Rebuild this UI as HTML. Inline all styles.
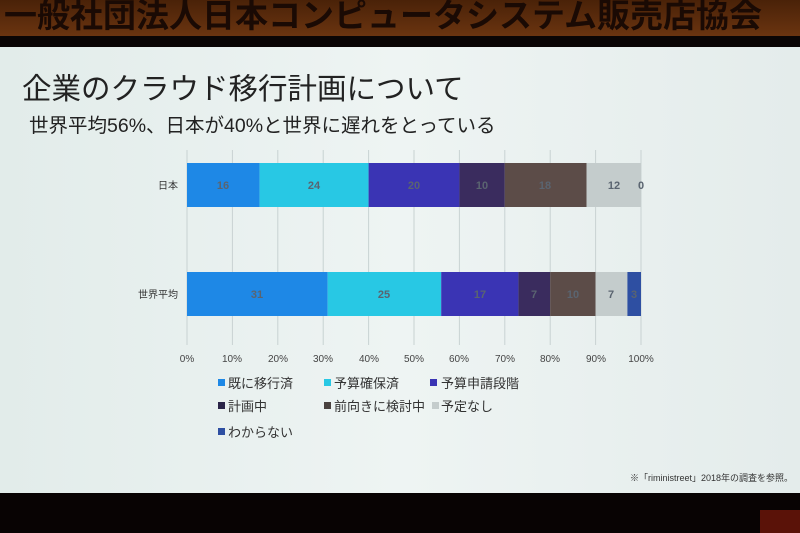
<!DOCTYPE html>
<html><head><meta charset="utf-8"><style>
body{margin:0;width:800px;height:533px;overflow:hidden;background:#0a0505;font-family:"Liberation Sans","Noto Sans CJK JP",sans-serif;position:relative}
.ban{position:absolute;left:0;top:0;width:800px;height:36px;background:linear-gradient(#4a2208,#6a3410);overflow:hidden}
.ban span{position:absolute;left:4px;top:-11px;font-size:33px;font-weight:bold;color:#1a0a04;white-space:nowrap}
.slide{position:absolute;left:0;top:47px;width:800px;height:446px;background:linear-gradient(90deg,#e2ecea,#eef4f3 50%,#e4eceb)}
.t{position:absolute;white-space:nowrap;color:#222}
.bot{position:absolute;left:0;top:493px;width:800px;height:40px;background:#080303}
</style></head><body>
<div class="ban"><span>一般社団法人日本コンピュータシステム販売店協会</span></div>
<div class="slide"></div>
<div class="t" style="left:22px;top:66px;font-size:29.5px">企業のクラウド移行計画について</div>
<div class="t" style="left:29px;top:109px;font-size:19.5px">世界平均56%、日本が40%と世界に遅れをとっている</div>
<svg style="position:absolute;left:0;top:0" width="800" height="533" font-family="Liberation Sans, Noto Sans CJK JP, sans-serif">
<g stroke="#c8d2d2" stroke-width="1">
<line x1="187" y1="150" x2="187" y2="345"/><line x1="232.4" y1="150" x2="232.4" y2="345"/><line x1="277.8" y1="150" x2="277.8" y2="345"/><line x1="323.2" y1="150" x2="323.2" y2="345"/><line x1="368.6" y1="150" x2="368.6" y2="345"/><line x1="414" y1="150" x2="414" y2="345"/><line x1="459.4" y1="150" x2="459.4" y2="345"/><line x1="504.8" y1="150" x2="504.8" y2="345"/><line x1="550.2" y1="150" x2="550.2" y2="345"/><line x1="595.6" y1="150" x2="595.6" y2="345"/><line x1="641" y1="150" x2="641" y2="345"/>
</g>
<g>
<rect x="187" y="163" width="72.6" height="44" fill="#1e88e6"/>
<rect x="259.6" y="163" width="109" height="44" fill="#28c8e4"/>
<rect x="368.6" y="163" width="90.8" height="44" fill="#3a34b4"/>
<rect x="459.4" y="163" width="45.4" height="44" fill="#3a2c5e"/>
<rect x="504.8" y="163" width="81.7" height="44" fill="#5c4c48"/>
<rect x="586.5" y="163" width="54.5" height="44" fill="#c4cccc"/>
<rect x="187" y="272" width="140.7" height="44" fill="#1e88e6"/>
<rect x="327.7" y="272" width="113.5" height="44" fill="#28c8e4"/>
<rect x="441.2" y="272" width="77.2" height="44" fill="#3a34b4"/>
<rect x="518.4" y="272" width="31.8" height="44" fill="#3a2c5e"/>
<rect x="550.2" y="272" width="45.4" height="44" fill="#5c4c48"/>
<rect x="595.6" y="272" width="31.8" height="44" fill="#c4cccc"/>
<rect x="627.4" y="272" width="13.6" height="44" fill="#2e4fa2"/>
</g>
<g font-size="11" fill="#5a6470" text-anchor="middle" font-weight="bold">
<text x="223" y="189">16</text><text x="314" y="189">24</text><text x="414" y="189">20</text><text x="482" y="189">10</text><text x="545" y="189">18</text><text x="614" y="189">12</text><text x="641" y="189">0</text>
<text x="257" y="298">31</text><text x="384" y="298">25</text><text x="480" y="298">17</text><text x="534" y="298">7</text><text x="573" y="298">10</text><text x="611" y="298">7</text><text x="634" y="298">3</text>
</g>
<g font-size="10" fill="#333" text-anchor="end"><text x="178" y="189">日本</text><text x="178" y="298">世界平均</text></g>
<g font-size="10" fill="#444" text-anchor="middle">
<text x="187" y="362">0%</text><text x="232" y="362">10%</text><text x="278" y="362">20%</text><text x="323" y="362">30%</text><text x="369" y="362">40%</text><text x="414" y="362">50%</text><text x="459" y="362">60%</text><text x="505" y="362">70%</text><text x="550" y="362">80%</text><text x="596" y="362">90%</text><text x="641" y="362">100%</text>
</g>
<g font-size="13" fill="#333">
<rect x="218" y="379" width="7" height="7" fill="#1e88e6"/><text x="228" y="388">既に移行済</text>
<rect x="324" y="379" width="7" height="7" fill="#28c8e4"/><text x="334" y="388">予算確保済</text>
<rect x="430" y="379" width="7" height="7" fill="#3a34b4"/><text x="441" y="388">予算申請段階</text>
<rect x="218" y="402" width="7" height="7" fill="#2a2448"/><text x="228" y="411">計画中</text>
<rect x="324" y="402" width="7" height="7" fill="#4a4240"/><text x="334" y="411">前向きに検討中</text>
<rect x="432" y="402" width="7" height="7" fill="#c4cccc"/><text x="441" y="411">予定なし</text>
<rect x="218" y="428" width="7" height="7" fill="#2e4fa2"/><text x="228" y="437">わからない</text>
</g>
<text x="793" y="481" font-size="9" fill="#333" text-anchor="end">※「riministreet」2018年の調査を参照。</text>
</svg>
<div class="bot"></div>
<div style="position:absolute;left:760px;top:510px;width:40px;height:23px;background:#5a1208"></div>
</body></html>
